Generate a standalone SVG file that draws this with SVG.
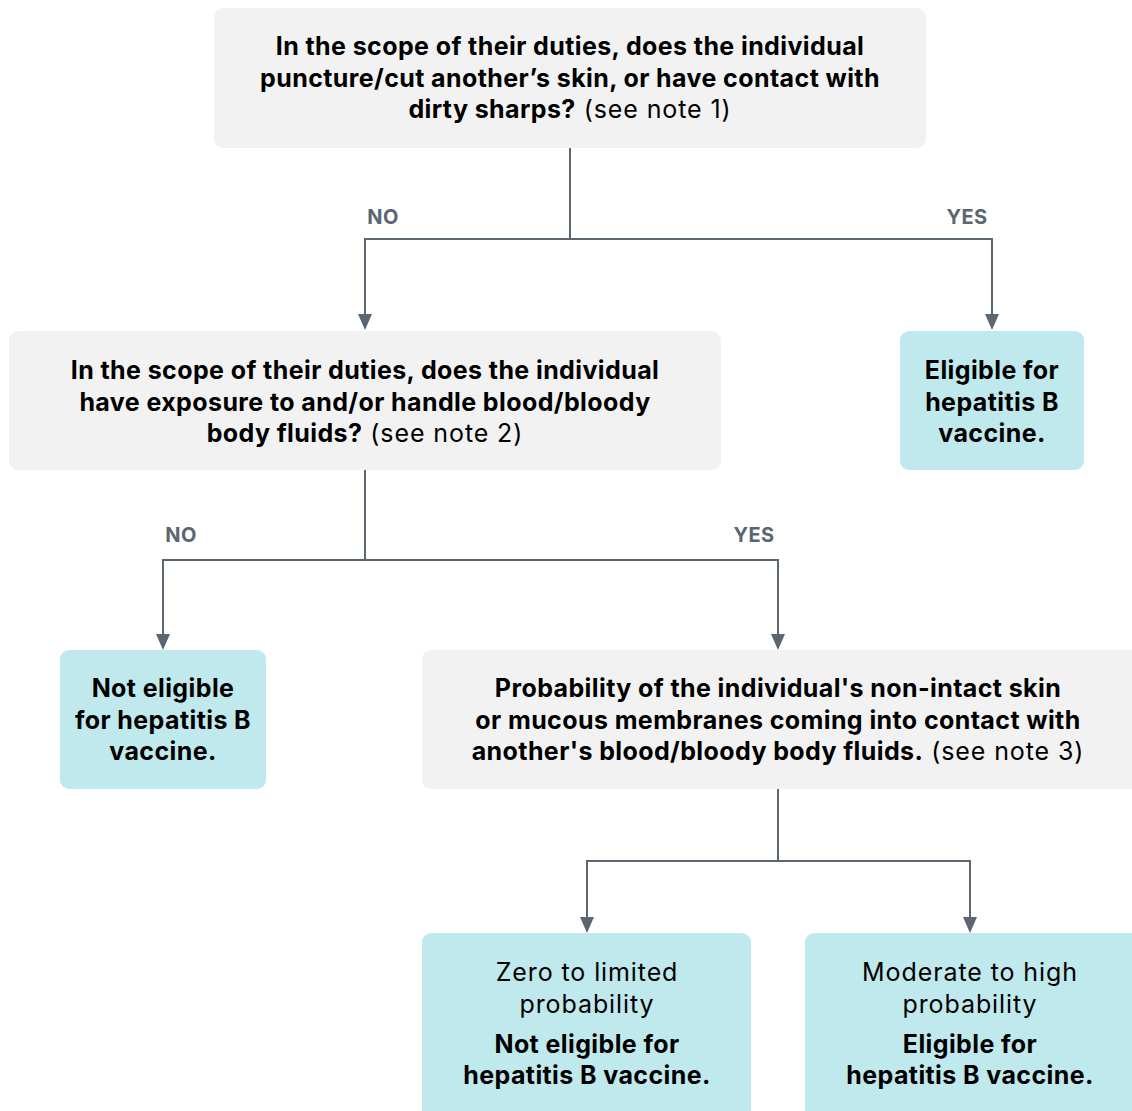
<svg xmlns="http://www.w3.org/2000/svg" width="1132" height="1111" viewBox="0 0 1132 1111">
<defs>
<style>
.q{fill:#f2f2f2}
.r{fill:#c0e9ed}
text{font-family:Inter,"Noto Sans",sans-serif;font-size:25px;fill:#000;text-anchor:middle}
.b{font-weight:700;letter-spacing:0.4px}
.n{font-weight:400;letter-spacing:0.9px}
.lbl{font-size:20px;font-weight:700;fill:#5b6670;letter-spacing:0.3px}
.c{fill:none;stroke:#5b6670;stroke-width:2}
.ah{fill:#5b6670}
</style>
</defs>
<rect width="1132" height="1111" fill="#fff"/>
<g id="connectors">
<path class="c" d="M570,148 V239 H365 V314"/>
<path class="c" d="M570,239 H992 V314"/>
<path class="ah" d="M358,314 H372 L365,330 Z"/>
<path class="ah" d="M985,314 H999 L992,330 Z"/>
<text class="lbl" x="383" y="224">NO</text>
<text class="lbl" x="967" y="224">YES</text>
<path class="c" d="M365,470 V560 H163 V634"/>
<path class="c" d="M365,560 H778 V634"/>
<path class="ah" d="M156,634 H170 L163,650 Z"/>
<path class="ah" d="M771,634 H785 L778,650 Z"/>
<text class="lbl" x="181" y="542">NO</text>
<text class="lbl" x="754" y="542">YES</text>
<path class="c" d="M778,789 V861 H587 V917"/>
<path class="c" d="M778,861 H970 V917"/>
<path class="ah" d="M580,917 H594 L587,933 Z"/>
<path class="ah" d="M963,917 H977 L970,933 Z"/>
</g>
<g id="q1">
<rect class="q" x="214" y="8" width="712" height="140" rx="9"/>
<text class="b" x="570" y="55">In the scope of their duties, does the individual</text>
<text class="b" x="570" y="87">puncture/cut another’s skin, or have contact with</text>
<text x="570" y="118"><tspan class="b">dirty sharps?</tspan><tspan class="n"> (see note 1)</tspan></text>
</g>
<g id="q2">
<rect class="q" x="9" y="331" width="712" height="139" rx="9"/>
<text class="b" x="365" y="379">In the scope of their duties, does the individual</text>
<text class="b" x="365" y="411">have exposure to and/or handle blood/bloody</text>
<text x="365" y="442"><tspan class="b">body fluids?</tspan><tspan class="n"> (see note 2)</tspan></text>
</g>
<g id="eligible1">
<rect class="r" x="900" y="331" width="184" height="139" rx="9"/>
<text class="b" x="992" y="379">Eligible for</text>
<text class="b" x="992" y="411">hepatitis B</text>
<text class="b" x="992" y="442">vaccine.</text>
</g>
<g id="noteligible1">
<rect class="r" x="60" y="650" width="206" height="139" rx="9"/>
<text class="b" x="163" y="697">Not eligible</text>
<text class="b" x="163" y="729">for hepatitis B</text>
<text class="b" x="163" y="760">vaccine.</text>
</g>
<g id="q3">
<rect class="q" x="422" y="650" width="720" height="139" rx="9"/>
<text class="b" x="778" y="697">Probability of the individual's non-intact skin</text>
<text class="b" x="778" y="729">or mucous membranes coming into contact with</text>
<text x="778" y="760"><tspan class="b">another's blood/bloody body fluids.</tspan><tspan class="n"> (see note 3)</tspan></text>
</g>
<g id="zero">
<rect class="r" x="422" y="933" width="329" height="190" rx="9"/>
<text class="n" x="587" y="981">Zero to limited</text>
<text class="n" x="587" y="1013">probability</text>
<text class="b" x="587" y="1053">Not eligible for</text>
<text class="b" x="587" y="1084">hepatitis B vaccine.</text>
</g>
<g id="moderate">
<rect class="r" x="805" y="933" width="340" height="190" rx="9"/>
<text class="n" x="970" y="981">Moderate to high</text>
<text class="n" x="970" y="1013">probability</text>
<text class="b" x="970" y="1053">Eligible for</text>
<text class="b" x="970" y="1084">hepatitis B vaccine.</text>
</g>
</svg>
